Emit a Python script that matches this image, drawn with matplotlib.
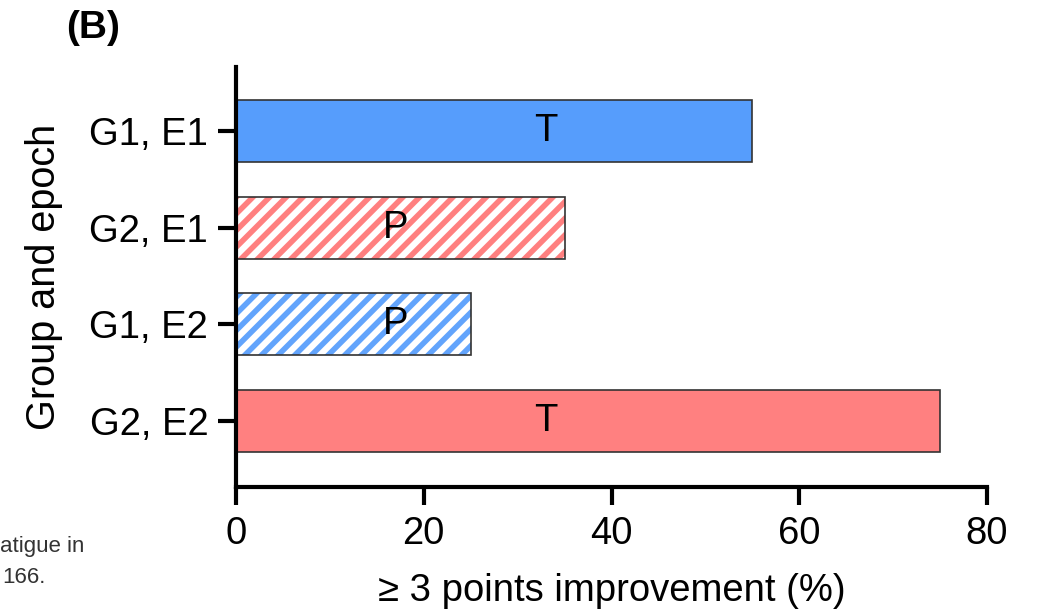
import matplotlib
matplotlib.use("Agg")
import matplotlib.pyplot as plt

# data
groups = ["G1, E1", "G2, E1", "G1, E2", "G2, E2"]
values = [55, 35, 25, 75]
bar_labels = ["T", "P", "P", "T"]
label_x = [33, 17, 17, 33]
bar_colors = ["#569dfc", "#ff8080", "#62a4fc", "#ff8080"]
hatched = [False, True, True, False]
xticks = [0, 20, 40, 60, 80]

plt.rcParams["font.family"] = ["Liberation Sans", "DejaVu Sans"]
plt.rcParams["hatch.linewidth"] = 4.0

fig = plt.figure(figsize=(10.38, 6.13), dpi=100, facecolor="white")
ax = fig.add_axes([236 / 1038, 1 - 487 / 613, 751 / 1038, 420 / 613])

ypos = list(range(len(groups)))
for y, v, c, h in zip(ypos, values, bar_colors, hatched):
    if h:
        # hatch colour follows edgecolor, so draw fill and outline separately
        ax.barh(y, v, height=0.64, color="white", edgecolor=c, hatch="//", linewidth=0)
        ax.barh(y, v, height=0.64, fill=False, edgecolor="#333333", linewidth=1.2)
    else:
        ax.barh(y, v, height=0.64, color=c, edgecolor="#333333", linewidth=1.2)

for y, lx, t in zip(ypos, label_x, bar_labels):
    ax.text(lx, y, t, ha="center", va="center", fontsize=27.5, color="black")

ax.set_xlim(0, 80)
ax.set_ylim(3.68, -0.66)
ax.set_xticks(xticks)
ax.set_xticklabels([str(t) for t in xticks])
ax.set_yticks(ypos)
ax.set_yticklabels(groups)

for s in ["top", "right"]:
    ax.spines[s].set_visible(False)
for s in ["left", "bottom"]:
    ax.spines[s].set_linewidth(3)
    ax.spines[s].set_color("black")
ax.tick_params(axis="both", length=13, width=3, labelsize=27.5, color="black")
ax.tick_params(axis="y", pad=7)
ax.tick_params(axis="x", pad=8)

ax.set_xlabel("\u2265 3 points improvement (%)", fontsize=27.5, labelpad=15)
ax.set_ylabel("Group and epoch", fontsize=28.5, labelpad=19)

fig.text(66 / 1038, 1 - 38 / 613, "(B)", fontsize=28, fontweight="bold", ha="left", va="baseline")

# caption fragment at lower left
fig.text(0.5 / 1038, 1 - 552 / 613, "atigue in", fontsize=16, color="#333333",
         ha="left", va="baseline")
fig.text(46 / 1038, 1 - 583 / 613, "166.", fontsize=16, color="#333333",
         ha="right", va="baseline")

fig.savefig("out.png", dpi=100, facecolor="white")
